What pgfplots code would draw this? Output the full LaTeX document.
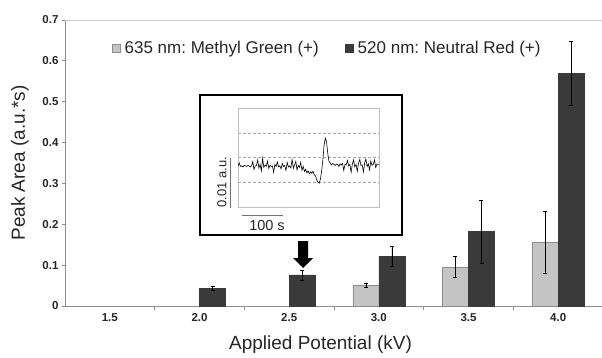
\documentclass[border=0pt]{standalone}
\usepackage{fontspec}
\setmainfont{Liberation Sans}
\usepackage{pgfplots}
\pgfplotsset{compat=1.18}
\definecolor{lg}{HTML}{C4C4C4}
\definecolor{dg}{HTML}{3A3A3A}
\definecolor{ax}{HTML}{8C8C8C}
\definecolor{lax}{HTML}{C8C8C8}
\begin{document}
\frenchspacing
\begin{tikzpicture}[x=1pt,y=1pt]
\useasboundingbox (0,0) rectangle (602,357);
\begin{axis}[
  at={(65pt,51pt)}, anchor=south west, scale only axis,
  width=538pt, height=286pt,
  xmin=-0.5, xmax=5.5, ymin=0, ymax=0.7,
  ybar=0pt, bar width=26pt,
  axis x line*=bottom, axis y line*=left,
  axis line style={ax, line width=0.9pt, -},
  xtick={0,1,2,3,4,5}, xticklabels={1.5,2.0,2.5,3.0,3.5,4.0},
  minor xtick={0.5,1.5,2.5,3.5,4.5},
  ytick={0,0.1,0.2,0.3,0.4,0.5,0.6,0.7},
  yticklabels={0,0.1,0.2,0.3,0.4,0.5,0.6,0.7},
  minor ytick={0,0.1,0.2,0.3,0.4,0.5,0.6,0.7},
  major tick length=0pt, minor tick length=3.5pt, tick align=outside,
  minor tick style={ax, line width=0.8pt},
  ticklabel style={font=\bfseries\fontsize{11.5}{13}\selectfont, text=black!85},
  xticklabel style={yshift=-4pt},
  yticklabel style={xshift=-3pt},
  xlabel={Applied Potential (kV)},
  ylabel={Peak Area (a.u.*s)},
  label style={font=\fontsize{19}{22}\selectfont, text=black!85},
  xlabel style={at={(axis description cs:0.475,-0.136)}, anchor=center},
  ylabel style={at={(axis description cs:-0.0836,0.5)}, anchor=center},
  legend style={draw=none, fill=none, at={(axis description cs:0.081,0.902)}, anchor=west,
    font=\fontsize{17}{19}\selectfont, text=black!85,
    /tikz/every even column/.append style={column sep=24pt}},
  legend columns=2,
  sqlegend/.style={legend image code/.code={\draw[##1] (0pt,-4.25pt) rectangle (8.5pt,4.25pt); \path (10.5pt,0pt);}},
]
\addplot+[fill=lg, draw=ax, sqlegend,
  error bars/.cd, y dir=both, y explicit,
  error bar style={black, line width=0.5pt},
  error mark options={black, rotate=90, mark size=2pt, line width=0.5pt}]
  coordinates {(3,0.051) +- (0,0.004) (4,0.096) +- (0,0.026) (5,0.156) +- (0,0.075)};
\addlegendentry{635 nm: Methyl Green (+)}
\addplot+[fill=dg, draw=dg, sqlegend,
  error bars/.cd, y dir=both, y explicit,
  error bar style={black, line width=0.5pt},
  error mark options={black, rotate=90, mark size=2pt, line width=0.5pt}]
  coordinates {(1,0.043) +- (0,0.005) (2,0.076) +- (0,0.012) (3,0.122) +- (0,0.025) (4,0.182) +- (0,0.077) (5,0.569) +- (0,0.078)};
\addlegendentry{520 nm: Neutral Red (+)}
\draw[lax, line width=0.9pt] (rel axis cs:0,1) -- (rel axis cs:1,1) -- (rel axis cs:1,0);
\end{axis}
% inset
\draw[black, line width=1.3pt] (200,122) rectangle (402,262);
\begin{axis}[
  at={(238pt,150pt)}, anchor=south west, scale only axis,
  width=141pt, height=99pt,
  xmin=0, xmax=344, ymin=0, ymax=20,
  xtick=\empty, ytick={5,10,15}, yticklabels={},
  major tick length=0pt,
  ymajorgrids, grid style={densely dashed, black!35, line width=0.5pt},
  axis line style={black!25, line width=0.5pt},
]
\addplot[black, line width=0.6pt, no marks] coordinates {
(0,8.3)(3,8.9)(6,8.2)(9,8.3)(12,8.1)(15,8.4)(18,8.3)(21,8.2)(24,8.4)(27,8.3)
(30,8.1)(33,8.3)(36,9.2)(39,7.6)(42,8.3)(45,8.4)(48,9.5)(51,7.9)(54,8.6)(57,7.3)
(60,9.8)(63,8.0)(66,8.5)(69,8.2)(72,9.3)(75,7.8)(78,8.4)(81,8.2)(84,8.3)(87,7.0)
(90,8.6)(93,8.2)(96,9.1)(99,8.1)(102,8.3)(105,7.7)(108,8.8)(111,8.2)(114,8.4)(117,7.4)
(120,9.0)(123,8.1)(126,8.3)(129,7.9)(132,9.6)(135,7.8)(138,8.5)(141,9.2)(144,7.5)(147,8.4)
(150,8.0)(153,9.0)(156,7.4)(159,8.2)(162,7.2)(165,7.6)(168,6.9)(171,7.3)(174,6.7)(177,7.1)
(180,6.8)(183,7.2)(186,6.5)(189,6.3)(192,5.5)(195,5.0)(198,4.8)(201,5.6)(204,7.2)(207,9.5)
(210,12.5)(213,13.9)(216,13.2)(219,10.8)(222,9.2)(225,8.9)(228,8.5)(231,8.8)(234,8.6)(237,8.4)
(240,8.7)(243,8.6)(246,8.2)(249,8.7)(252,8.5)(255,8.8)(258,7.4)(261,8.6)(264,8.5)(267,9.4)
(270,8.3)(273,8.6)(276,7.0)(279,8.7)(282,9.5)(285,8.1)(288,8.6)(291,7.2)(294,8.8)(297,9.6)
(300,8.4)(303,8.5)(306,7.1)(309,8.9)(312,9.7)(315,8.2)(318,8.7)(321,7.5)(324,9.3)(327,8.4)
(330,8.6)(333,9.5)(336,8.0)(339,8.7)(342,8.6)(344,8.6)};
\end{axis}
\draw[black!55, line width=1pt] (230,199) -- (230,149);
\draw[black!55, line width=1pt] (242,142) -- (283,142);
\node[rotate=90, font=\fontsize{13}{15}\selectfont, text=black!85] at (222,175) {0.01 a.u.};
\node[font=\fontsize{14.5}{16}\selectfont, text=black!85] at (267,131) {100 s};
% arrow
\fill[black] (298,116) -- (308,116) -- (308,99) -- (313,99) -- (303,89) -- (293,99) -- (298,99) -- cycle;
\end{tikzpicture}
\end{document}
